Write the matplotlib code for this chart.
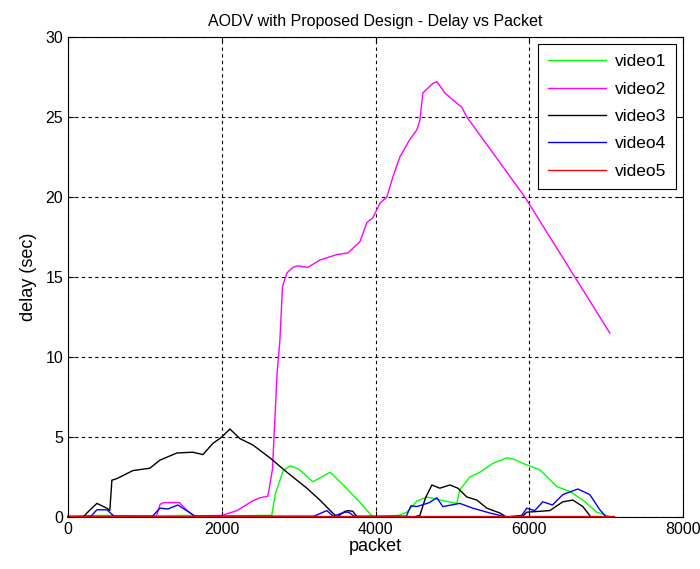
import matplotlib
matplotlib.use("Agg")
import matplotlib.pyplot as plt

# series (packet index, delay in sec)
video1_x = [0, 500, 1000, 1500, 2000, 2500, 2650, 2700, 2800, 2890, 3000, 3185, 3300, 3410, 3600, 3800, 3965,
            4300, 4407, 4537, 4667, 4800, 5057, 5096, 5226, 5356, 5525, 5707, 5800, 5915, 6136, 6357, 6526, 6695,
            6877, 7060]
video1_y = [0.05, 0.1, 0.05, 0.1, 0.05, 0.1, 0.1, 1.5, 2.9, 3.2, 3.0, 2.2, 2.5, 2.8, 1.9, 0.9, 0.0,
            0.1, 0.3, 1.0, 1.25, 1.1, 0.85, 1.7, 2.5, 2.8, 3.35, 3.7, 3.6, 3.35, 2.95, 1.9, 1.6, 1.06,
            0.3, 0.0]

video2_x = [0, 1150, 1200, 1250, 1450, 1550, 1650, 2000, 2200, 2300, 2400, 2496, 2600, 2660, 2720, 2756, 2790,
            2847, 2925, 2990, 3120, 3276, 3497, 3640, 3796, 3887, 3965, 4056, 4147, 4225, 4316, 4446, 4537,
            4576, 4615, 4745, 4800, 4901, 5122, 5187, 5941, 6591, 7046]
video2_y = [0.05, 0.05, 0.8, 0.9, 0.9, 0.4, 0.05, 0.1, 0.4, 0.7, 1.0, 1.2, 1.3, 3.0, 9.0, 11.0, 14.4,
            15.25, 15.6, 15.7, 15.6, 16.06, 16.4, 16.5, 17.2, 18.4, 18.7, 19.6, 20.0, 21.25, 22.5, 23.6, 24.2,
            24.8, 26.5, 27.1, 27.2, 26.5, 25.6, 25.0, 20.0, 15.0, 11.5]

video3_x = [0, 200, 247, 377, 507, 545, 572, 637, 845, 1066, 1196, 1417, 1625, 1755, 1885, 2002, 2106, 2236,
            2405, 2626, 2847, 3107, 3276, 3432, 3500, 3600, 3650, 3705, 3760, 4500, 4576, 4650, 4732, 4836,
            4966, 5070, 5187, 5317, 5447, 5616, 5700, 5900, 5967, 6266, 6435, 6565, 6695, 6800, 7000]
video3_y = [0.0, 0.0, 0.25, 0.85, 0.55, 0.4, 2.3, 2.4, 2.9, 3.05, 3.55, 4.0, 4.05, 3.9, 4.6, 5.0, 5.5, 4.9,
            4.5, 3.7, 2.8, 1.8, 1.06, 0.3, 0.0, 0.35, 0.4, 0.35, 0.0, 0.0, 0.1, 1.2, 2.0, 1.8,
            2.0, 1.8, 1.25, 1.06, 0.55, 0.25, 0.0, 0.0, 0.3, 0.4, 0.95, 1.06, 0.65, 0.0, 0.0]

video4_x = [0, 300, 377, 507, 600, 1100, 1196, 1300, 1430, 1560, 1650, 3200, 3367, 3450, 3600, 3650, 3720,
            4400, 4460, 4537, 4700, 4797, 4875, 5096, 5265, 5486, 5700, 5900, 5967, 6070, 6175, 6300, 6435,
            6630, 6786, 6916, 7000]
video4_y = [0.0, 0.05, 0.45, 0.45, 0.05, 0.05, 0.55, 0.5, 0.75, 0.35, 0.05, 0.05, 0.4, 0.05, 0.3, 0.3, 0.05,
            0.05, 0.7, 0.65, 0.9, 1.2, 0.65, 0.85, 0.55, 0.25, 0.0, 0.1, 0.55, 0.4, 0.95, 0.75, 1.4,
            1.75, 1.4, 0.45, 0.0]

video5_x = [0, 7100]
video5_y = [0.05, 0.05]

series = [
    ("video1", video1_x, video1_y, (0, 1, 0)),
    ("video2", video2_x, video2_y, (1, 0, 1)),
    ("video3", video3_x, video3_y, (0, 0, 0)),
    ("video4", video4_x, video4_y, (0, 0, 1)),
    ("video5", video5_x, video5_y, (1, 0, 0)),
]

plt.rcParams["font.family"] = ["Liberation Sans", "DejaVu Sans"]

fig = plt.figure(figsize=(7.0, 5.69), dpi=100)
ax = fig.add_axes([0.097, 0.0914, 0.879, 0.8436])

for name, xs, ys, color in series:
    ax.plot(xs, ys, color=color, linewidth=1.0, label=name, clip_on=False)

ax.set_xlim(0, 8000)
ax.set_ylim(0, 30)
ax.set_xticks([0, 2000, 4000, 6000, 8000])
ax.set_yticks([0, 5, 10, 15, 20, 25, 30])
ax.grid(True, color="black", linestyle=(0, (3, 3)), linewidth=0.8)
ax.tick_params(direction="in", length=4, labelsize=11.5, top=True, right=True, labeltop=False, labelright=False)
for sp in ax.spines.values():
    sp.set_linewidth(0.8)

ax.set_title("AODV with Proposed Design - Delay vs Packet", fontsize=11.5, pad=8)
ax.set_xlabel("packet", fontsize=13, labelpad=1)
ax.set_ylabel("delay (sec)", fontsize=13, labelpad=6)

leg = ax.legend(loc="upper right", fontsize=12.5, handlelength=3.3, handletextpad=0.5, labelspacing=0.7,
                borderpad=0.6, borderaxespad=0.4, fancybox=False, framealpha=1, edgecolor="black")
leg.get_frame().set_linewidth(0.8)

fig.savefig("out.png", dpi=100)
